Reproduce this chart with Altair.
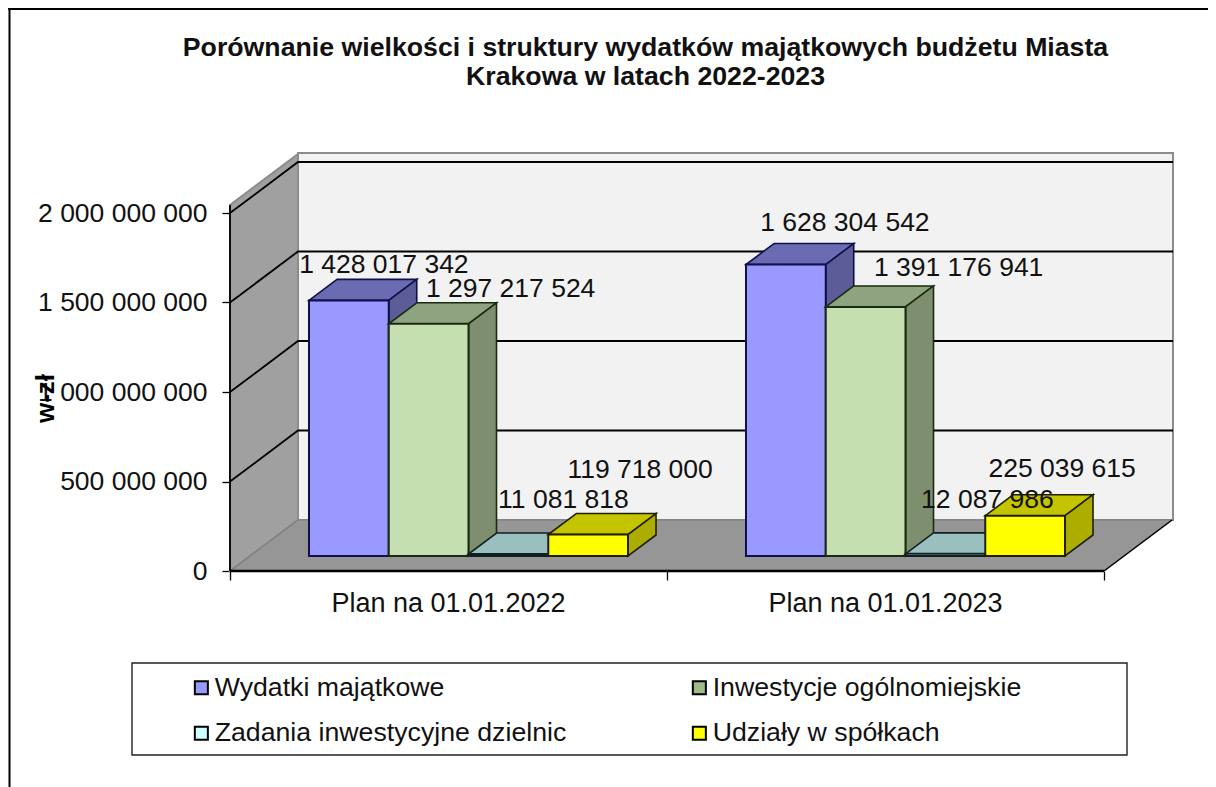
import altair as alt
import pandas as pd

FONT = "Liberation Sans"
TITLE = ["Porównanie wielkości i struktury wydatków majątkowych budżetu Miasta",
         "Krakowa w latach 2022-2023"]
CATEGORIES = ["Plan na 01.01.2022", "Plan na 01.01.2023"]
SERIES = ["Wydatki majątkowe", "Inwestycje ogólnomiejskie",
          "Zadania inwestycyjne dzielnic", "Udziały w spółkach"]
VALUES_2022 = [1428017342, 1297217524, 11081818, 119718000]
VALUES_2023 = [1628304542, 1391176941, 12087986, 225039615]
Y_TICKS = [0, 500000000, 1000000000, 1500000000, 2000000000]

FRONT = ["#9999ff", "#c5dfb0", "#ccffff", "#ffff00"]
TOP = ["#6b6bb3", "#8ea37f", "#99bfbf", "#c4c400"]
SIDE = ["#5c5c99", "#7e8f70", "#80a0a0", "#adad00"]
SWATCH = ["#9999ff", "#9dbb86", "#ccffff", "#ffff00"]

# Projection: 3D box in category units (x), value units (y) and a 0-1 depth.
PX_X = 437.0           # pixels per category
PX_Y = 0.179e-6        # pixels per zł
DEPTH_X = 68 / PX_X
DEPTH_Y = 51 / PX_Y
D0, D1 = 15 / 51, 36 / 51
GAP = 0.135
BAR_W = (1 - 2 * GAP) / 4
W, H = 943, 418
X_MAX = W / PX_X
Y_MAX = H / PX_Y
WALL_TOP = 366 / PX_Y
AXIS_MAX = 2.0


def sx(u, d=0.0):
    return u + d * DEPTH_X


def sy(v, d=0.0):
    return v + d * DEPTH_Y


xs = alt.Scale(domain=[0, X_MAX], nice=False, zero=False)
ys = alt.Scale(domain=[0, Y_MAX], nice=False, zero=False)
X = alt.X("x:Q", scale=xs, title=None,
          axis=alt.Axis(values=[0, 1, 2], labels=False, domain=False, grid=False,
                        tickSize=9, tickColor="black", tickWidth=1.3))
Y = alt.Y("y:Q", scale=ys, title="w-zł",
          axis=alt.Axis(values=Y_TICKS, grid=False, domain=False, tickSize=8,
                        tickColor="black", tickWidth=1.3, labelPadding=15,
                        labelFont=FONT, labelFontSize=26.5, labelColor="#111111",
                        labelExpr="replace(format(datum.value, ','), /,/g, ' ')",
                        titleFont=FONT, titleFontSize=26, titleFontWeight="bold",
                        titleColor="black", titleX=-172, titleY=245))


def vface(xa, xb, ya, ya2, yb, yb2, fill, stroke, sw=1.6):
    """Quad with vertical left and right edges."""
    df = pd.DataFrame({"x": [xa, xb], "y": [ya, yb], "y2": [ya2, yb2]})
    return alt.Chart(df).mark_area(fill=fill, stroke=stroke, strokeWidth=sw, orient="vertical",
                                   strokeJoin="miter").encode(x=X, y=Y, y2="y2:Q")


def hface(ya, yb, xa, xa2, xb, xb2, fill, stroke, sw=1.6):
    """Quad with horizontal bottom and top edges."""
    df = pd.DataFrame({"y": [ya, yb], "x": [xa, xb], "x2": [xa2, xb2]})
    return alt.Chart(df).mark_area(fill=fill, stroke=stroke, strokeWidth=sw, orient="horizontal",
                                   strokeJoin="miter").encode(y=Y, x=X, x2="x2:Q")


def polyline(us, vs, color, sw):
    df = pd.DataFrame({"x": us, "y": vs, "o": list(range(len(us)))})
    return alt.Chart(df).mark_line(color=color, strokeWidth=sw).encode(x=X, y=Y, order="o:Q")


layers = []

# Legend driver: zero-size rectangles under the walls.
leg = pd.DataFrame({"series": SERIES, "x": [0] * 4, "x2": [0] * 4, "y": [0] * 4, "y2": [0] * 4})
layers.append(alt.Chart(leg).mark_rect().encode(
    x=X, x2="x2:Q", y=Y, y2="y2:Q",
    color=alt.Color("series:N", sort=SERIES, scale=alt.Scale(domain=SERIES, range=SWATCH),
                    legend=alt.Legend(
                        orient="none", legendX=-42, legendY=521, columns=2, direction="horizontal",
                        title=None, labelFont=FONT, labelFontSize=26.7, labelColor="#111111",
                        symbolType="square", symbolSize=170, symbolStrokeColor="black",
                        symbolStrokeWidth=2, columnPadding=119, rowPadding=18,
                        labelOffset=0, labelLimit=500, symbolOpacity=1))))

# Walls and floor.
wall_grey = "#8c8c8c"
layers.append(vface(sx(0, 1), X_MAX, sy(0, 1), Y_MAX, sy(0, 1), Y_MAX,
                    "#f2f2f2", wall_grey, 2))
layers.append(vface(0, sx(0, 1), 0, WALL_TOP, sy(0, 1), sy(WALL_TOP, 1), "#a0a0a0", wall_grey, 2))
layers.append(hface(0, sy(0, 1), 0, AXIS_MAX, sx(0, 1), sx(AXIS_MAX, 1), "#969696", "#7f7f7f", 1.2))

# Gridlines.
for v in Y_TICKS[1:]:
    layers.append(polyline([0, sx(0, 1), X_MAX], [v, sy(v, 1), sy(v, 1)], "black", 1.8))

# Axis lines.
layers.append(polyline([0, 0], [0, WALL_TOP], "black", 1.8))
layers.append(polyline([0, AXIS_MAX], [0, 0], "black", 2.4))
layers.append(polyline([AXIS_MAX, sx(AXIS_MAX, 1)], [0, sy(0, 1)], "black", 1.4))

# Bars.
EDGE = ["#10104a", "#1a2a10", "#102020", "#202000"]
NUDGES = {
    (0, 0): (35, -35), (0, 1): (82, -35), (0, 2): (55, -54), (0, 3): (52, -65),
    (1, 0): (59, -42), (1, 1): (93, -39), (1, 2): (42, -54), (1, 3): (37, -47),
}
labels = []
for c, vals in enumerate([VALUES_2022, VALUES_2023]):
    for i, v in enumerate(vals):
        u0 = c + GAP + i * BAR_W
        u1 = u0 + BAR_W
        xf0, xf1 = sx(u0, D0), sx(u1, D0)
        xb0, xb1 = sx(u0, D1), sx(u1, D1)
        yf_base, yf_top = sy(0, D0), sy(v, D0)
        yb_base, yb_top = sy(0, D1), sy(v, D1)
        layers.append(hface(yf_top, yb_top, xf0, xf1, xb0, xb1, TOP[i], EDGE[i]))
        layers.append(vface(xf1, xb1, yf_top, yf_base, yb_top, yb_base, SIDE[i], EDGE[i]))
        front = pd.DataFrame({"x": [xf0], "x2": [xf1], "y": [yf_base], "y2": [yf_top]})
        layers.append(alt.Chart(front).mark_rect(fill=FRONT[i], stroke=EDGE[i], strokeWidth=2)
                      .encode(x=X, x2="x2:Q", y=Y, y2="y2:Q"))
        text = f"{v:,}".replace(",", " ")
        dx, dy = NUDGES[(c, i)]
        lab = pd.DataFrame({"x": [(xf0 + xf1) / 2], "y": [yf_top], "t": [text]})
        labels.append(alt.Chart(lab).mark_text(font=FONT, fontSize=26.5, color="#111111", dx=dx, dy=dy)
                      .encode(x=X, y=Y, text="t:N"))
layers.extend(labels)

# Category labels.
cat = pd.DataFrame({"x": [0.5, 1.5], "y": [0, 0], "t": CATEGORIES})
layers.append(alt.Chart(cat).mark_text(font=FONT, fontSize=27, color="#111111", dy=33)
              .encode(x=X, y=Y, text="t:N"))

# Legend box and outer frame.
one = pd.DataFrame({"a": [0]})
layers.append(alt.Chart(one).mark_rect(fill="transparent", stroke="#222222", strokeWidth=1.4).encode(
    x=alt.value(-98), x2=alt.value(897), y=alt.value(510), y2=alt.value(602)))
layers.append(alt.Chart(one).mark_rule(color="black", strokeWidth=2).encode(
    x=alt.value(-222), x2=alt.value(978), y=alt.value(-144)))
layers.append(alt.Chart(one).mark_rule(color="black", strokeWidth=2).encode(
    x=alt.value(-220.5), y=alt.value(-145), y2=alt.value(634)))

chart = alt.layer(*layers).properties(
    width=W, height=H,
    padding={"left": 222, "top": 145, "right": 35, "bottom": 216},
    autosize=alt.AutoSizeParams(type="none"),
    title=alt.TitleParams(TITLE, font=FONT, fontSize=26.7, fontWeight="bold", color="#111111",
                          anchor="middle", dx=-56, offset=-84, lineHeight=29),
).configure_view(stroke=None).configure_axis(labelOverlap=False)

chart.save("out.html", embed_options={"renderer": "svg", "actions": False})
